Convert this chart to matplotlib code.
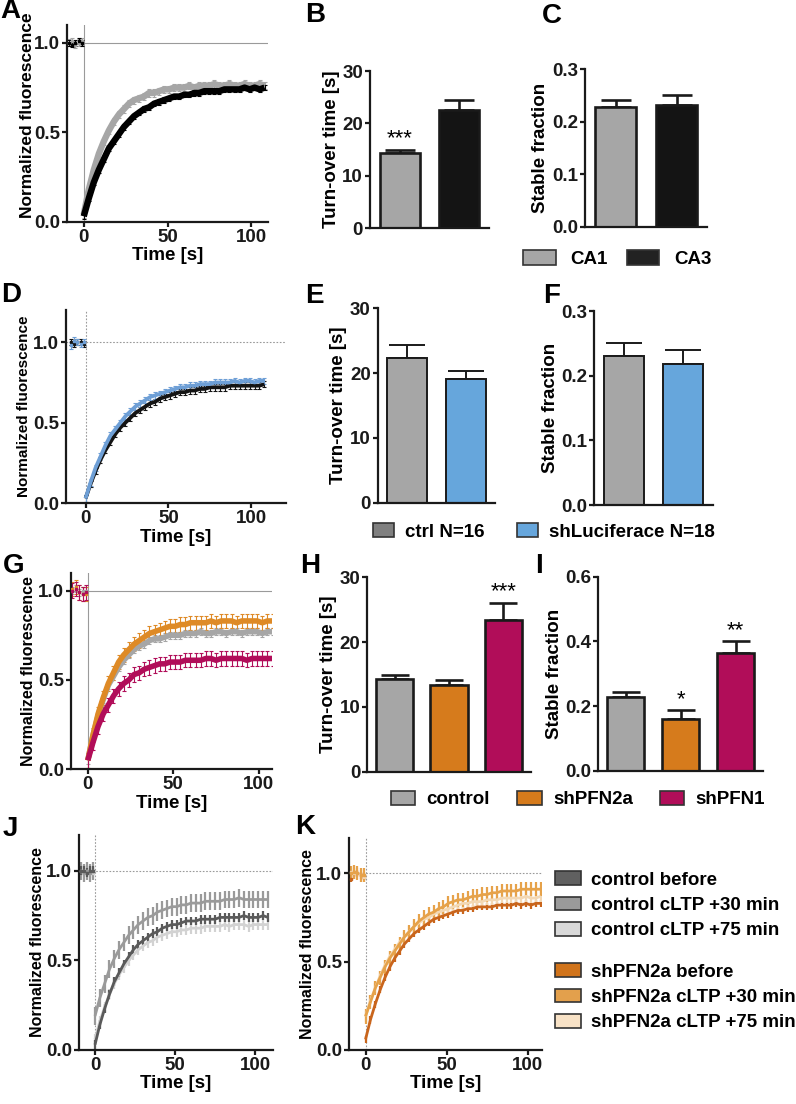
#!/usr/bin/env python3
# FRAP figure: recovery curves (A, D, G, J, K) and bar summaries (B, C, E, F, H, I)
import numpy as np
import matplotlib
matplotlib.use("Agg")
import matplotlib.pyplot as plt
from matplotlib.patches import Patch

plt.rcParams["font.family"] = ["Liberation Sans", "DejaVu Sans"]
plt.rcParams["font.weight"] = "bold"
plt.rcParams["axes.labelweight"] = "bold"

W, H = 796, 1104

# ---------------- data ----------------
# time points: 5 pre-bleach frames, then post-bleach every 3 s
TIME = [-9, -7, -5, -3, -1] + list(range(0, 109, 3))

# A: CA1 vs CA3
A_CA1 = [1.00, 1.01, 0.99, 1.00, 1.01,
         0.04, 0.18, 0.29, 0.38, 0.45, 0.51, 0.56, 0.60, 0.63, 0.66,
         0.68, 0.69, 0.70, 0.72, 0.72, 0.73, 0.74, 0.74, 0.75, 0.75,
         0.75, 0.76, 0.75, 0.76, 0.76, 0.76, 0.77, 0.76, 0.76, 0.77,
         0.76, 0.76, 0.77, 0.76, 0.76, 0.77, 0.76]
A_CA3 = [1.00, 0.99, 1.00, 1.01, 1.00,
         0.03, 0.13, 0.22, 0.29, 0.35, 0.41, 0.45, 0.49, 0.53, 0.56,
         0.59, 0.61, 0.63, 0.64, 0.66, 0.67, 0.68, 0.69, 0.70, 0.70,
         0.71, 0.71, 0.72, 0.72, 0.73, 0.73, 0.73, 0.73, 0.74, 0.74,
         0.74, 0.74, 0.75, 0.74, 0.75, 0.74, 0.75]
A_SEM = [0.02, 0.015]

# D: ctrl vs shLuciferace
D_CTRL = [1.00, 0.99, 1.00, 1.00, 0.99,
          0.03, 0.12, 0.20, 0.27, 0.33, 0.38, 0.43, 0.47, 0.50, 0.53,
          0.56, 0.58, 0.60, 0.62, 0.63, 0.65, 0.66, 0.67, 0.68, 0.69,
          0.69, 0.70, 0.70, 0.71, 0.71, 0.72, 0.72, 0.72, 0.72, 0.73,
          0.73, 0.73, 0.73, 0.73, 0.73, 0.73, 0.74]
D_SHLUC = [0.98, 1.01, 1.00, 0.99, 1.00,
           0.03, 0.13, 0.22, 0.29, 0.36, 0.42, 0.46, 0.50, 0.54, 0.57,
           0.60, 0.62, 0.64, 0.66, 0.67, 0.68, 0.69, 0.70, 0.71, 0.72,
           0.72, 0.73, 0.73, 0.74, 0.74, 0.74, 0.75, 0.75, 0.75, 0.75,
           0.76, 0.75, 0.76, 0.76, 0.75, 0.76, 0.76]
D_SEM = [0.02, 0.02]

# G: control, shPFN2a, shPFN1
G_CTRL = [1.00, 1.01, 0.99, 1.00, 1.00,
          0.05, 0.19, 0.30, 0.39, 0.47, 0.52, 0.57, 0.61, 0.64, 0.67,
          0.69, 0.70, 0.72, 0.73, 0.73, 0.74, 0.75, 0.75, 0.75, 0.76,
          0.76, 0.76, 0.77, 0.76, 0.76, 0.77, 0.77, 0.76, 0.77, 0.77,
          0.76, 0.77, 0.77, 0.77, 0.76, 0.77, 0.77]
G_PFN2A = [1.01, 1.02, 0.99, 0.98, 0.98,
           0.05, 0.19, 0.31, 0.40, 0.48, 0.54, 0.60, 0.64, 0.67, 0.70,
           0.72, 0.74, 0.76, 0.77, 0.78, 0.79, 0.80, 0.80, 0.81, 0.81,
           0.82, 0.82, 0.82, 0.82, 0.83, 0.82, 0.83, 0.83, 0.83, 0.82,
           0.83, 0.83, 0.83, 0.83, 0.82, 0.83, 0.83]
G_PFN1 = [1.00, 1.01, 0.99, 0.98, 0.99,
          0.05, 0.15, 0.24, 0.31, 0.36, 0.41, 0.45, 0.48, 0.50, 0.53,
          0.54, 0.56, 0.57, 0.58, 0.59, 0.59, 0.60, 0.60, 0.60, 0.61,
          0.61, 0.61, 0.61, 0.62, 0.62, 0.61, 0.62, 0.62, 0.62, 0.62,
          0.62, 0.61, 0.62, 0.62, 0.62, 0.62, 0.62]
G_SEM = [0.02, 0.04, 0.04]

# J: control before / cLTP +30 / cLTP +75
J_BEFORE = [1.00, 1.00, 0.99, 1.00, 1.00,
            0.03, 0.14, 0.23, 0.31, 0.38, 0.43, 0.48, 0.52, 0.56, 0.59,
            0.61, 0.63, 0.65, 0.66, 0.68, 0.69, 0.70, 0.70, 0.71, 0.72,
            0.72, 0.72, 0.73, 0.73, 0.73, 0.73, 0.74, 0.74, 0.74, 0.74,
            0.74, 0.75, 0.74, 0.74, 0.74, 0.75, 0.74]
J_30 = [1.00, 0.99, 1.00, 0.99, 1.00,
        0.19, 0.29, 0.37, 0.45, 0.51, 0.56, 0.60, 0.64, 0.67, 0.70,
        0.72, 0.74, 0.75, 0.77, 0.78, 0.79, 0.80, 0.80, 0.81, 0.81,
        0.82, 0.82, 0.82, 0.83, 0.83, 0.83, 0.83, 0.84, 0.84, 0.84,
        0.85, 0.84, 0.84, 0.84, 0.84, 0.84, 0.84]
J_75 = [1.00, 1.00, 1.00, 0.99, 0.99,
        0.06, 0.16, 0.24, 0.31, 0.37, 0.42, 0.46, 0.50, 0.53, 0.56,
        0.58, 0.60, 0.61, 0.63, 0.64, 0.65, 0.66, 0.66, 0.67, 0.67,
        0.68, 0.68, 0.68, 0.69, 0.69, 0.69, 0.69, 0.70, 0.69, 0.70,
        0.70, 0.70, 0.69, 0.70, 0.70, 0.70, 0.70]
J_SEM = [0.025, 0.05, 0.03]

# K: shPFN2a before / cLTP +30 / cLTP +75
K_BEFORE = [0.97, 1.00, 1.00, 0.99, 0.98,
            0.06, 0.17, 0.26, 0.34, 0.41, 0.47, 0.52, 0.56, 0.60, 0.63,
            0.66, 0.68, 0.70, 0.72, 0.74, 0.75, 0.76, 0.77, 0.78, 0.79,
            0.79, 0.80, 0.80, 0.81, 0.81, 0.81, 0.81, 0.82, 0.82, 0.82,
            0.82, 0.83, 0.82, 0.83, 0.82, 0.83, 0.83]
K_30 = [1.00, 1.01, 1.00, 0.99, 0.99,
        0.19, 0.27, 0.35, 0.41, 0.47, 0.52, 0.56, 0.60, 0.64, 0.67,
        0.70, 0.73, 0.75, 0.77, 0.78, 0.80, 0.81, 0.83, 0.84, 0.85,
        0.85, 0.86, 0.87, 0.87, 0.88, 0.88, 0.89, 0.89, 0.90, 0.90,
        0.90, 0.90, 0.91, 0.91, 0.91, 0.91, 0.91]
K_75 = [1.01, 1.00, 1.00, 0.99, 0.98,
        0.19, 0.28, 0.35, 0.42, 0.48, 0.53, 0.57, 0.61, 0.64, 0.67,
        0.70, 0.72, 0.74, 0.75, 0.77, 0.78, 0.79, 0.80, 0.81, 0.82,
        0.83, 0.83, 0.84, 0.84, 0.84, 0.85, 0.85, 0.85, 0.86, 0.86,
        0.86, 0.86, 0.86, 0.87, 0.86, 0.86, 0.87]
K_SEM = [0.02, 0.04, 0.03]

# bar summaries
B_TURNOVER = [14.4, 22.6]
B_SEM = [0.6, 1.9]
B_STARS = ["***", ""]
C_STABLE = [0.228, 0.232]
C_SEM = [0.014, 0.019]

E_TURNOVER = [22.4, 19.1]
E_SEM = [1.9, 1.2]
F_STABLE = [0.230, 0.218]
F_SEM = [0.021, 0.022]

H_TURNOVER = [14.35, 13.4, 23.4]
H_SEM = [0.55, 0.7, 2.7]
H_STARS = ["", "", "***"]
I_STABLE = [0.229, 0.161, 0.365]
I_SEM = [0.014, 0.026, 0.036]
I_STARS = ["", "*", "**"]

LEG_REGION = ["CA1", "CA3"]
LEG_SH = ["ctrl N=16", "shLuciferace N=18"]
LEG_PFN = ["control", "shPFN2a", "shPFN1"]
LEG_CTRL_LTP = ["control before", "control cLTP +30 min", "control cLTP +75 min"]
LEG_PFN_LTP = ["shPFN2a before", "shPFN2a cLTP +30 min", "shPFN2a cLTP +75 min"]

# ---------------- colours ----------------
GREY = "#a6a6a6"
BLACK = "#141414"
BLUE = "#66a6dc"
BLUE_LINE = "#6e9fd6"
ORANGE = "#d67b1c"
MAGENTA = "#b10d59"
EDGE = "#1a1a1a"


# ---------------- helpers ----------------
def px_axes(fig, left, right, bottom, top):
    return fig.add_axes([left / W, 1 - bottom / H, (right - left) / W, (bottom - top) / H])


def style(ax, lw=1.6):
    for s in ("top", "right"):
        ax.spines[s].set_visible(False)
    for s in ("left", "bottom"):
        ax.spines[s].set_linewidth(lw)
        ax.spines[s].set_color(EDGE)
    ax.tick_params(width=lw, length=3.5, labelsize=13.5, pad=1.5, colors=EDGE)


def curve_panel(ax, series, colors, sems, lw, xlim, ylim, dotted, caps, ylab_size):
    t = np.asarray(TIME, float)
    pre = t < 0
    ref = dict(color="#9a9a9a", lw=0.8, ls=(0, (1.5, 1.5)) if dotted else "-", zorder=0)
    ax.axhline(1.0, **ref)
    ax.axvline(0.0, **ref)
    for y, c, e in zip(series, colors, sems):
        y = np.asarray(y, float)
        if caps:
            ax.errorbar(t, y, yerr=e, fmt="none", ecolor=c, elinewidth=0.8,
                        capsize=1.2, capthick=0.8, zorder=2)
        else:
            ax.errorbar(t, y, yerr=e, fmt="none", ecolor=c, elinewidth=1.6, zorder=2)
        ax.plot(t[~pre], y[~pre], color=c, lw=lw, zorder=3, solid_capstyle="butt")
        ax.plot(t[pre], y[pre], ls="none", marker="s", ms=1.8, color=c, zorder=3)
    ax.set_xlim(*xlim)
    ax.set_ylim(*ylim)
    ax.set_xticks([0, 50, 100])
    ax.set_yticks([0.0, 0.5, 1.0])
    ax.set_yticklabels(["0.0", "0.5", "1.0"])
    ax.set_xlabel("Time [s]", fontsize=13.5, labelpad=1)
    ax.set_ylabel("Normalized fluorescence", fontsize=ylab_size, labelpad=1)
    style(ax)


def bar_panel(ax, vals, sems, colors, ymax, yticks, ylabel, lw, cap, stars=None, fmt="{:g}"):
    x = np.arange(len(vals))
    ax.errorbar(x, vals, yerr=[np.zeros(len(vals)), sems], fmt="none", ecolor=EDGE,
                elinewidth=lw, capsize=cap, capthick=lw, zorder=1)
    ax.bar(x, vals, width=0.68, color=colors, edgecolor=EDGE, linewidth=lw, zorder=2)
    if stars:
        for xi, v, s, st in zip(x, vals, sems, stars):
            if st:
                ax.annotate(st, (xi, v + s), xytext=(0, 0), textcoords="offset points",
                            ha="center", va="bottom", fontsize=16, fontweight="normal",
                            color="#000000")
    ax.set_xlim(-0.5, len(vals) - 0.5)
    ax.set_ylim(0, ymax)
    ax.set_xticks([])
    ax.set_yticks(yticks)
    ax.set_yticklabels([fmt.format(v) for v in yticks])
    ax.set_ylabel(ylabel, fontsize=13.5, labelpad=2)
    style(ax)


def patch_legend(fig, labels, colors, x, y, ncol, hl, hh, tp, cs, ls=0.5, size=13.5, ecol="#333333"):
    handles = [Patch(facecolor=c, edgecolor=ecol, linewidth=1.2, label=l)
               for l, c in zip(labels, colors)]
    fig.legend(handles=handles, loc="center left", bbox_to_anchor=(x / W, 1 - y / H),
               ncol=ncol, frameon=False, fontsize=size, handlelength=hl, handleheight=hh,
               handletextpad=tp, columnspacing=cs, labelspacing=ls,
               borderpad=0, borderaxespad=0)


def letter(fig, x, y, s):
    fig.text(x / W, 1 - y / H, s, fontsize=20, fontweight="bold", ha="left", va="center")


# ---------------- figure ----------------
fig = plt.figure(figsize=(W / 100, H / 100), dpi=100)

# row 1
ax = px_axes(fig, 67, 268, 221.7, 25)
curve_panel(ax, [A_CA1, A_CA3], [GREY, "#000000"], A_SEM, 4.6, (-10, 110), (0, 1.1),
            False, True, 12.5)
ax.yaxis.set_label_coords(-0.16, 0.54)
ax = px_axes(fig, 370, 489, 228.3, 71)
bar_panel(ax, B_TURNOVER, B_SEM, [GREY, BLACK], 30, [0, 10, 20, 30], "Turn-over time [s]",
          1.9, 11, B_STARS)
ax = px_axes(fig, 585, 707, 226.7, 69.3)
bar_panel(ax, C_STABLE, C_SEM, [GREY, BLACK], 0.3, [0.0, 0.1, 0.2, 0.3], "Stable fraction",
          1.9, 11, fmt="{:.1f}")
patch_legend(fig, LEG_REGION, [GREY, "#222222"], 522.7, 259, 2, 1.75, 0.85, 0.8, 1.0)

# row 2
ax = px_axes(fig, 65.7, 286, 503.3, 310)
curve_panel(ax, [D_CTRL, D_SHLUC], [BLACK, BLUE_LINE], D_SEM, 2.7, (-12, 121), (0, 1.2),
            True, True, 11)
ax = px_axes(fig, 377.7, 495, 502.7, 308.3)
bar_panel(ax, E_TURNOVER, E_SEM, [GREY, BLUE], 30, [0, 10, 20, 30], "Turn-over time [s]",
          1.4, 13)
ax = px_axes(fig, 594.3, 712.7, 505, 311)
bar_panel(ax, F_STABLE, F_SEM, [GREY, BLUE], 0.3, [0.0, 0.1, 0.2, 0.3], "Stable fraction",
          1.4, 13, fmt="{:.1f}")
patch_legend(fig, LEG_SH, ["#808080", BLUE], 373, 532, 2, 1.1, 0.8, 0.6, 1.75)

# row 3
ax = px_axes(fig, 70.7, 271.7, 769.3, 572.7)
curve_panel(ax, [G_CTRL, G_PFN2A, G_PFN1], [GREY, "#de8a26", MAGENTA], G_SEM, 4.0,
            (-10, 107.5), (0, 1.1), False, True, 11.5)
ax = px_axes(fig, 367.3, 530.7, 771.7, 577.3)
bar_panel(ax, H_TURNOVER, H_SEM, [GREY, ORANGE, MAGENTA], 30, [0, 10, 20, 30],
          "Turn-over time [s]", 1.9, 10, H_STARS)
ax = px_axes(fig, 598.3, 763.3, 770.7, 576.7)
bar_panel(ax, I_STABLE, I_SEM, [GREY, ORANGE, MAGENTA], 0.6, [0.0, 0.2, 0.4, 0.6],
          "Stable fraction", 1.9, 10, I_STARS, fmt="{:.1f}")
patch_legend(fig, LEG_PFN, [GREY, ORANGE, MAGENTA], 391, 799.5, 3, 1.3, 0.85, 0.6, 1.45)

# row 4
ax = px_axes(fig, 79, 272.7, 1050, 835)
curve_panel(ax, [J_75, J_30, J_BEFORE], ["#d2d2d2", "#9a9a9a", "#5a5a5a"], J_SEM[::-1],
            2.0, (-10, 111), (0, 1.2), True, False, 11.5)
ax = px_axes(fig, 349.3, 542.3, 1050, 838)
curve_panel(ax, [K_BEFORE, K_75, K_30], ["#c9651c", "#f3d8b4", "#e6a24a"],
            [K_SEM[0], K_SEM[2], K_SEM[1]], 2.0, (-10, 109), (0, 1.2), True, False, 11.5)
patch_legend(fig, LEG_CTRL_LTP, ["#606060", "#9a9a9a", "#d9d9d9"], 555, 905.3, 1,
             1.4, 0.75, 0.5, 1.0, ls=0.42)
patch_legend(fig, LEG_PFN_LTP, ["#d0731a", "#e3a04c", "#f8e2c6"], 555, 997.4, 1,
             1.4, 0.75, 0.5, 1.0, ls=0.42)

# panel letters
for s, x, y in [("A", 0, 11), ("B", 305, 15.5), ("C", 541.5, 16),
                ("D", 1, 295), ("E", 305, 296), ("F", 543, 296),
                ("G", 3, 566), ("H", 300, 566), ("I", 535, 566),
                ("J", 3, 829), ("K", 295, 827)]:
    letter(fig, x, y, s)

fig.savefig("out.png", dpi=100)
